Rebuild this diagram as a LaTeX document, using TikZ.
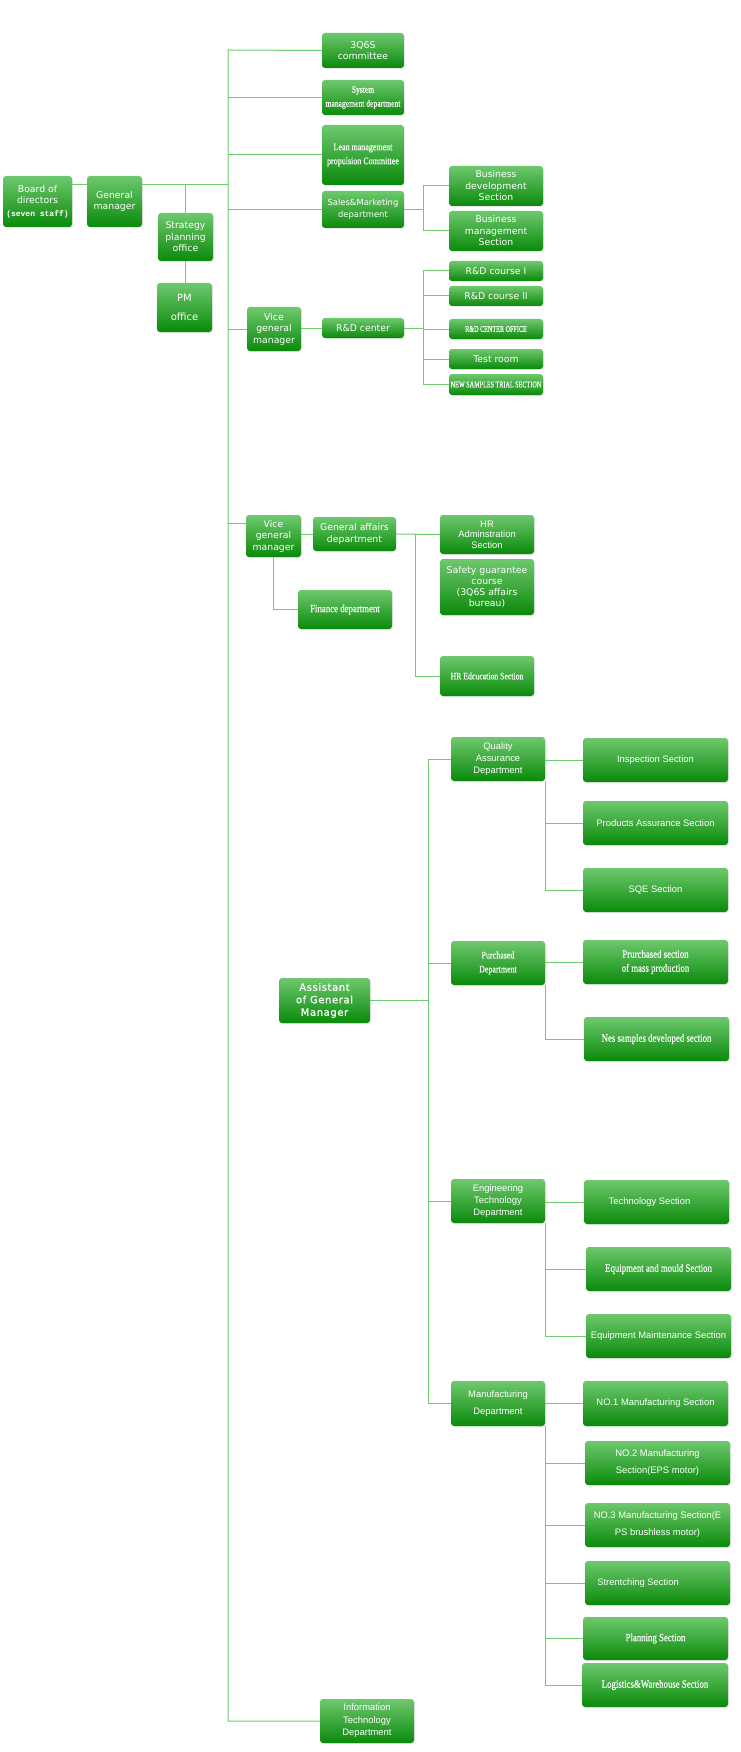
\documentclass[tikz,border=0pt]{standalone}
\usepackage{fontspec}
\usetikzlibrary{shadows}
\newfontfamily\dv{DejaVu Sans}
\newfontfamily\dvls[LetterSpace=6,FakeBold=0.6]{DejaVu Sans}
\newfontfamily\ar{Liberation Sans}
\newfontfamily\sr[FakeStretch=0.8,FakeBold=0.3]{Liberation Serif}
\newfontfamily\srn[FakeStretch=0.7,FakeBold=0.3]{Liberation Serif}
\newfontfamily\mn{Liberation Mono}
\definecolor{boxtop}{RGB}{110,200,110}
\definecolor{boxbot}{RGB}{10,138,10}
\definecolor{linegreen}{RGB}{110,204,110}
\tikzset{
  box/.style={rounded corners=3pt, top color=boxtop, bottom color=boxbot, draw=none,
    text=white, align=center, inner sep=0pt,
    drop shadow={opacity=0.18, shadow xshift=0.8pt, shadow yshift=-0.8pt},
    font=\dv\fontsize{9.3}{11.5}\selectfont},
  ln/.style={draw=linegreen, line width=1pt},
  arf/.style={font=\ar\fontsize{9.4}{12}\selectfont},
  srf/.style={font=\sr\fontsize{#1}{14}\selectfont},
  srnf/.style={font=\srn\fontsize{#1}{12}\selectfont},
  w/.style={minimum width=#1pt},
  h/.style={minimum height=#1pt}
}
\begin{document}
\begin{tikzpicture}[x=1pt,y=-1pt]
\fill[white] (0,0) rectangle (740,1752);
\useasboundingbox (0,0) rectangle (740,1752);

% top level
\node[box,w=69,h=51] (bod) at (37.5,201.5) {Board of\\directors\\[1pt]{\mn\bfseries\fontsize{8}{10}\selectfont(seven staff)}};
\node[box,w=55,h=51] (gm) at (114.5,201.5) {General\\manager};
\node[box,w=55,h=48] (spo) at (185.5,237) {Strategy\\planning\\office};
\node[box,w=55,h=49,font=\dv\fontsize{10}{12}\selectfont] (pmo) at (184.5,307.5) {PM\\[7pt]office};

% column 1 departments
\node[box,w=82,h=35] (q6s) at (363,50.5) {3Q6S\\committee};
\node[box,w=82,h=35,srf=9.5] (sys) at (363,97.5) {System\\management department};
\node[box,w=82,h=60,srf=10] (lean) at (363,155) {Lean management\\propulsion Committee};
\node[box,w=82,h=37,font=\dv\fontsize{8.4}{12}\selectfont] (sales) at (363,209.5) {Sales\&Marketing\\department};
\node[box,w=94,h=40] (bdev) at (496,186) {Business\\development\\Section};
\node[box,w=94,h=40] (bman) at (496,231) {Business\\management\\Section};

% R&D
\node[box,w=54,h=44] (vgm1) at (274,329) {Vice\\general\\manager};
\node[box,w=82,h=20] (rdc) at (363,328) {R\&D center};
\node[box,w=94,h=20] (rd1) at (496,271) {R\&D course I};
\node[box,w=94,h=20] (rd2) at (496,296) {R\&D course II};
\node[box,w=94,h=20,srnf=8.8] (rdo) at (496,329) {R\&D CENTER OFFICE};
\node[box,w=94,h=20] (test) at (496,359) {Test room};
\node[box,w=94,h=21,srnf=8.8] (nsts) at (496,384.5) {NEW SAMPLES TRIAL SECTION};

% General affairs
\node[box,w=55,h=42] (vgm2) at (273.5,536) {Vice\\general\\manager};
\node[box,w=83,h=34] (ga) at (354.5,534) {General affairs\\department};
\node[box,w=94,h=39,font=\ar\fontsize{9.4}{10.5}\selectfont] (hra) at (487,534.5) {HR\\Adminstration\\Section};
\node[box,w=94,h=56,font=\dv\fontsize{9.3}{11}\selectfont] (safe) at (487,587) {Safety guarantee\\course\\(3Q6S affairs\\bureau)};
\node[box,w=94,h=40,srf=9.7] (hre) at (487,676) {HR Edcucation Section};
\node[box,w=94,h=39,srf=11] (fin) at (345,609.5) {Finance department};

% Assistant of GM
\node[box,w=91,h=45,font=\dvls\fontsize{10}{12.5}\selectfont] (agm) at (324.5,1000.5) {Assistant\\of General\\Manager};
\node[box,w=94,h=44,arf] (qa) at (498,759) {Quality\\Assurance\\Department};
\node[box,w=145,h=44,arf] (insp) at (655.5,760) {Inspection Section};
\node[box,w=145,h=44,arf] (pas) at (655.5,823) {Products Assurance Section};
\node[box,w=145,h=44,arf] (sqe) at (655.5,890) {SQE Section};
\node[box,w=94,h=44,font=\sr\fontsize{10}{14}\selectfont] (pur) at (498,963) {Purchased\\Department};
\node[box,w=145,h=44,font=\sr\fontsize{11}{14}\selectfont] (pms) at (655.5,962) {Prurchased section\\of mass production};
\node[box,w=145,h=44,srf=11] (nes) at (656.5,1039) {Nes samples developed section};
\node[box,w=94,h=44,arf] (eng) at (498,1201) {Engineering\\Technology\\Department};
\node[box,w=145,h=44,arf] (tech) at (656.5,1202) {Technology Section\hspace{14pt}};
\node[box,w=145,h=44,srf=11] (eqm) at (658.5,1269) {Equipment and mould Section};
\node[box,w=145,h=44,arf] (eqmt) at (658.5,1336) {Equipment Maintenance Section};
\node[box,w=94,h=45,font=\ar\fontsize{9.4}{17}\selectfont] (man) at (498,1403.5) {Manufacturing\\Department};
\node[box,w=145,h=45,arf] (no1) at (655.5,1403.5) {NO.1 Manufacturing Section};
\node[box,w=145,h=44,font=\ar\fontsize{9.4}{17}\selectfont] (no2) at (657.5,1463) {NO.2 Manufacturing\\Section(EPS motor)};
\node[box,w=145,h=44,font=\ar\fontsize{9.4}{17}\selectfont] (no3) at (657.5,1525) {NO.3 Manufacturing Section(E\\PS brushless motor)};
\node[box,w=145,h=44,arf] (str) at (657.5,1583) {Strentching Section\hspace{39pt}};
\node[box,w=145,h=43,srf=11] (plan) at (655.5,1638.5) {Planning Section};
\node[box,w=146,h=44,srf=11] (log) at (655,1685) {Logistics\&Warehouse Section};
\node[box,w=94,h=44,font=\ar\fontsize{9.4}{12.5}\selectfont] (itd) at (367,1721) {Information\\Technology\\Department};

% junction coordinates
\coordinate (tk) at (228,50);
\coordinate (gmj) at (228,185);
\coordinate (v2j) at (228,523);
\coordinate (rx) at (423,0);
\coordinate (gx) at (415,0);
\coordinate (ax) at (428,0);

% connectors: top
\draw[ln] (bod.east |- gmj) -- (gm.west |- gmj);
\draw[ln] (gm.east |- gmj) -- (gmj);
\draw[ln] (spo.north |- gmj) -- (spo.north);
\draw[ln] (spo.south) -- (spo.south |- pmo.north);
\draw[ln] (q6s.west) -- (tk) -- (tk |- itd.west) -- (itd.west);
\draw[ln] (sys.west) -- (sys.west -| tk);
\draw[ln] (lean.west) -- (lean.west -| tk);
\draw[ln] (sales.west) -- (sales.west -| tk);
\draw[ln] (vgm1.west) -- (vgm1.west -| tk);
\draw[ln] (v2j) -- (v2j -| vgm2.west);

% sales
\draw[ln] (sales.east) -- (sales.east -| rx);
\draw[ln] (bdev.west) -- (bdev.west -| rx) -- (bman.west -| rx) -- (bman.west);

% R&D
\draw[ln] (rdc.west -| vgm1.east) -- (rdc.west);
\draw[ln] (rdc.east) -- (rdc.east -| rx);
\draw[ln] (rd1.west) -- (rd1.west -| rx) -- (nsts.west -| rx) -- (nsts.west);
\draw[ln] (rd2.west) -- (rd2.west -| rx);
\draw[ln] (rdo.west) -- (rdo.west -| rx);
\draw[ln] (test.west) -- (test.west -| rx);

% general affairs
\draw[ln] (ga.west -| vgm2.east) -- (ga.west);
\draw[ln] (ga.east) -- (hra.west);
\draw[ln] (ga.east -| gx) -- (hre.west -| gx) -- (hre.west);
\draw[ln] (vgm2.south) |- (fin.west);

% assistant GM
\draw[ln] (agm.east) -- (agm.east -| ax);
\draw[ln] (qa.west) -- (qa.west -| ax) -- (man.west -| ax) -- (man.west);
\draw[ln] (pur.west) -- (pur.west -| ax);
\draw[ln] (eng.west) -- (eng.west -| ax);

\draw[ln] (insp.west -| qa.east) -- (insp.west);
\draw[ln] (qa.south east) |- (pas.west);
\draw[ln] (qa.south east) |- (sqe.west);

\draw[ln] (pms.west -| pur.east) -- (pms.west);
\draw[ln] (pur.south east) |- (nes.west);

\draw[ln] (tech.west -| eng.east) -- (tech.west);
\draw[ln] (eng.south east) |- (eqm.west);
\draw[ln] (eng.south east) |- (eqmt.west);

\draw[ln] (no1.west -| man.east) -- (no1.west);
\draw[ln] (man.south east) |- (no2.west);
\draw[ln] (man.south east) |- (no3.west);
\draw[ln] (man.south east) |- (str.west);
\draw[ln] (man.south east) |- (plan.west);
\draw[ln] (man.south east) |- (log.west);
\end{tikzpicture}
\end{document}
